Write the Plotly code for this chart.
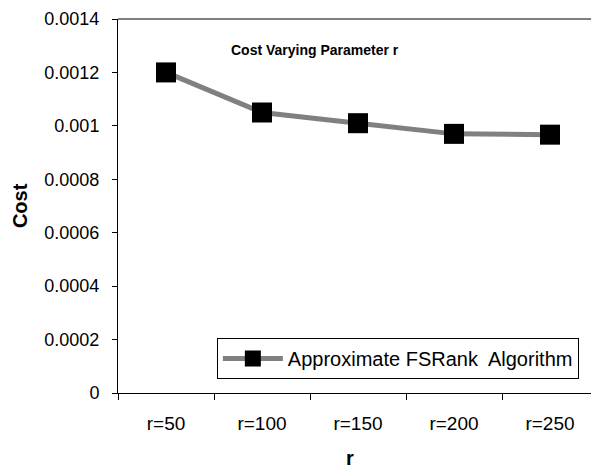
import plotly.graph_objects as go

# r settings and measured cost
categories = ["r=50", "r=100", "r=150", "r=200", "r=250"]
cost = [0.0012, 0.00105, 0.00101, 0.00097, 0.000967]
y_ticks = [0, 0.0002, 0.0004, 0.0006, 0.0008, 0.001, 0.0012, 0.0014]
y_tick_text = ["0", "0.0002", "0.0004", "0.0006", "0.0008", "0.001", "0.0012", "0.0014"]

FONT = "Liberation Sans, Arial, Helvetica, sans-serif"

fig = go.Figure()
fig.add_trace(go.Scatter(
    x=categories,
    y=cost,
    mode="lines+markers",
    name="Approximate FSRank  Algorithm",
    line=dict(color="#808080", width=5),
    marker=dict(symbol="square", size=20, color="black"),
))

fig.update_layout(
    width=591,
    height=468,
    margin=dict(l=118, r=0, t=19, b=75),
    paper_bgcolor="white",
    plot_bgcolor="white",
    font=dict(family=FONT, size=18, color="black"),
    showlegend=True,
    legend=dict(
        x=0.209, y=0.147, xanchor="left", yanchor="top",
        bgcolor="white", bordercolor="black", borderwidth=1,
        font=dict(size=20, color="black"),
        itemwidth=60,
        tracegroupgap=0,
    ),
    xaxis=dict(
        type="category",
        range=[-0.5, 4.427],
        showgrid=False,
        showline=True, linecolor="black", linewidth=1,
        ticks="outside", ticklen=6, tickcolor="black",
        tickson="boundaries",
        ticklabelstandoff=13,
        tickfont=dict(size=19),
        zeroline=False,
    ),
    yaxis=dict(
        range=[0, 0.0014],
        tickvals=y_ticks,
        ticktext=y_tick_text,
        showgrid=False,
        showline=True, linecolor="black", linewidth=1,
        ticks="outside", ticklen=5, tickcolor="black",
        ticklabelstandoff=9,
        tickfont=dict(size=18),
        zeroline=False,
    ),
    shapes=[
        # grey top border of the plot area
        dict(type="line", xref="paper", yref="paper", x0=0, x1=1, y0=1, y1=1,
             line=dict(color="#808080", width=2)),
    ],
    annotations=[
        dict(text="<b>Cost Varying Parameter r</b>", xref="paper", yref="paper",
             x=0.4165, y=0.917, xanchor="center", yanchor="middle",
             showarrow=False, font=dict(size=14)),
        dict(text="<b>Cost</b>", xref="paper", yref="paper",
             x=-0.207, y=0.50, xanchor="center", yanchor="middle", textangle=-90,
             showarrow=False, font=dict(size=20)),
        dict(text="<b>r</b>", xref="paper", yref="paper",
             x=0.49, y=-0.175, xanchor="center", yanchor="middle",
             showarrow=False, font=dict(size=20)),
    ],
)

fig.write_html("out.html")
